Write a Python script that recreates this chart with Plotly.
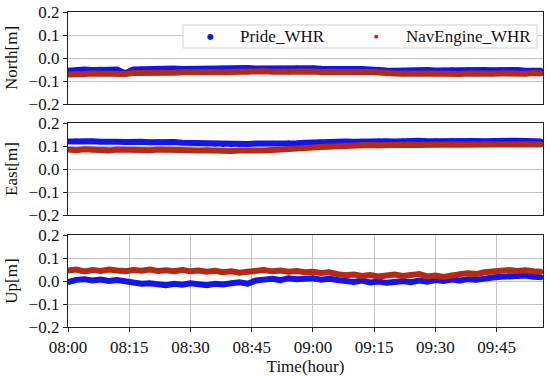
import pandas as pd
import plotly.graph_objects as go
from plotly.subplots import make_subplots

# sample times (every 2 minutes from 08:00 to 09:56)
TIMES = pd.date_range("2024-01-01 08:00", "2024-01-01 09:56", freq="2min")

SERIES_NAMES = ["Pride_WHR", "NavEngine_WHR"]
PANEL_LABELS = ["North[m]", "East[m]", "Up[m]"]
X_TICK_LABELS = ["08:00", "08:15", "08:30", "08:45", "09:00", "09:15", "09:30", "09:45"]
Y_TICKS = [-0.2, -0.1, 0.0, 0.1, 0.2]

north_pride = [-0.056, -0.052, -0.050, -0.052, -0.049, -0.051, -0.050, -0.066, -0.050, -0.048,
               -0.049, -0.047, -0.048, -0.046, -0.048, -0.047, -0.049, -0.046, -0.048, -0.045,
               -0.047, -0.046, -0.044, -0.046, -0.045, -0.047, -0.045, -0.046, -0.044, -0.046,
               -0.045, -0.047, -0.046, -0.048, -0.047, -0.049, -0.048, -0.050, -0.049, -0.054,
               -0.055, -0.053, -0.055, -0.054, -0.052, -0.054, -0.053, -0.051, -0.053, -0.052,
               -0.054, -0.052, -0.053, -0.051, -0.054, -0.052, -0.055, -0.053, -0.055]
north_nav = [-0.072, -0.068, -0.070, -0.067, -0.069, -0.066, -0.068, -0.070, -0.065, -0.066,
             -0.064, -0.065, -0.063, -0.064, -0.062, -0.063, -0.061, -0.063, -0.060, -0.062,
             -0.061, -0.059, -0.061, -0.060, -0.058, -0.060, -0.059, -0.061, -0.058, -0.060,
             -0.059, -0.061, -0.060, -0.062, -0.061, -0.060, -0.062, -0.061, -0.063, -0.068,
             -0.067, -0.069, -0.066, -0.068, -0.067, -0.069, -0.066, -0.068, -0.070, -0.067,
             -0.069, -0.066, -0.068, -0.067, -0.069, -0.066, -0.068, -0.065, -0.067]
east_pride = [0.120, 0.122, 0.119, 0.121, 0.118, 0.120, 0.119, 0.117, 0.119, 0.118,
              0.116, 0.118, 0.115, 0.117, 0.114, 0.113, 0.112, 0.110, 0.108, 0.106,
              0.105, 0.107, 0.109, 0.111, 0.110, 0.112, 0.111, 0.113, 0.112, 0.114,
              0.116, 0.117, 0.118, 0.119, 0.120, 0.119, 0.121, 0.120, 0.122, 0.121,
              0.120, 0.122, 0.121, 0.123, 0.121, 0.122, 0.120, 0.122, 0.121, 0.123,
              0.122, 0.121, 0.123, 0.122, 0.121, 0.123, 0.122, 0.121, 0.120]
east_nav = [0.085, 0.082, 0.086, 0.083, 0.084, 0.081, 0.085, 0.083, 0.086, 0.084,
            0.082, 0.085, 0.083, 0.084, 0.081, 0.083, 0.080, 0.082, 0.079, 0.081,
            0.078, 0.080, 0.079, 0.082, 0.080, 0.083, 0.084, 0.086, 0.088, 0.090,
            0.093, 0.096, 0.098, 0.100, 0.101, 0.103, 0.102, 0.104, 0.103, 0.105,
            0.104, 0.106, 0.105, 0.104, 0.106, 0.105, 0.107, 0.106, 0.105, 0.107,
            0.106, 0.108, 0.107, 0.106, 0.108, 0.107, 0.109, 0.108, 0.107]
up_pride = [-0.005, 0.005, 0.008, 0.002, 0.006, 0.000, 0.004, -0.002, -0.008, -0.012,
            -0.010, -0.015, -0.018, -0.012, -0.016, -0.010, -0.014, -0.018, -0.012, -0.015,
            -0.010, -0.006, -0.012, 0.002, 0.006, 0.010, 0.004, 0.012, 0.008, 0.010,
            0.012, 0.006, 0.010, 0.004, 0.000, -0.004, 0.002, -0.006, -0.002, -0.008,
            -0.004, 0.000, -0.005, 0.002, -0.003, 0.004, 0.000, 0.006, 0.002, 0.008,
            0.005, 0.012, 0.015, 0.018, 0.022, 0.020, 0.024, 0.018, 0.016]
up_nav = [0.045, 0.050, 0.042, 0.048, 0.044, 0.050, 0.046, 0.043, 0.048, 0.045,
          0.050, 0.044, 0.047, 0.043, 0.048, 0.042, 0.046, 0.040, 0.044, 0.038,
          0.042, 0.036, 0.040, 0.044, 0.048, 0.042, 0.046, 0.040, 0.043, 0.038,
          0.040, 0.035, 0.038, 0.030, 0.025, 0.028, 0.022, 0.026, 0.020, 0.024,
          0.028, 0.022, 0.026, 0.030, 0.020, 0.024, 0.018, 0.026, 0.030, 0.034,
          0.030, 0.038, 0.042, 0.046, 0.048, 0.044, 0.047, 0.042, 0.040]

COLORS = ["#1414f0", "#b52a12"]
PANELS = [(north_pride, north_nav), (east_pride, east_nav), (up_pride, up_nav)]

FONT = "Liberation Serif, Times New Roman, serif"

fig = make_subplots(rows=3, cols=1, shared_xaxes=False, vertical_spacing=0.06)

for r, (pride, nav) in enumerate(PANELS, start=1):
    for vals, col, name in zip((pride, nav), COLORS, SERIES_NAMES):
        fig.add_trace(go.Scatter(x=TIMES, y=vals, mode="lines+markers", name=name,
                                 line=dict(color=col, width=6),
                                 marker=dict(color=col, size=5),
                                 showlegend=False), row=r, col=1)

tickvals = pd.to_datetime(["2024-01-01 " + t for t in X_TICK_LABELS])
xrange = ["2024-01-01 08:00", "2024-01-01 09:56:20"]

H = 315.0
domains = [(223 / H, 1.0), (112 / H, 204 / H), (0.0, 92 / H)]

for r in range(1, 4):
    fig.update_yaxes(row=r, col=1, range=[-0.2, 0.2], tickvals=Y_TICKS,
                     ticktext=[f"{v:.1f}".replace("-", "\u2212") for v in Y_TICKS],
                     showgrid=True, gridcolor="#c4c4c4", gridwidth=1,
                     showline=True, linecolor="#222", linewidth=1.3, mirror=True,
                     ticks="outside", ticklen=4, tickcolor="#222",
                     zeroline=False, domain=list(domains[r - 1]), automargin=False,
                     title=dict(text=PANEL_LABELS[r - 1], standoff=6,
                                font=dict(family=FONT, size=17, color="#111")),
                     tickfont=dict(family=FONT, size=17, color="#111"))
    last = (r == 3)
    fig.update_xaxes(row=r, col=1, type="date", range=xrange,
                     tickvals=tickvals, ticktext=X_TICK_LABELS,
                     showticklabels=last, showgrid=last, gridcolor="#c4c4c4",
                     ticks="outside" if last else "", ticklen=4, tickcolor="#222",
                     showline=True, linecolor="#222", linewidth=1.3, mirror=True,
                     zeroline=False, automargin=False,
                     tickfont=dict(family=FONT, size=17, color="#111"))

fig.update_xaxes(row=3, col=1, title=dict(text="Time(hour)", standoff=2,
                                          font=dict(family=FONT, size=17, color="#111")))

# legend box drawn as a shape with text entries (compact, matplotlib-like)
W_PLOT, H_PLOT, L0, T0 = 475.0, 315.0, 68.0, 12.0
def px_x(p):
    return (p - L0) / W_PLOT
def px_y(p):
    return (T0 + H_PLOT - p) / H_PLOT

fig.add_shape(type="rect", xref="paper", yref="paper",
              x0=px_x(183), x1=px_x(537), y0=px_y(48), y1=px_y(25),
              line=dict(color="#d0d0d0", width=1), fillcolor="rgba(255,255,255,0.92)",
              layer="above")
legend_items = [(210, 8, 238, SERIES_NAMES[0], COLORS[0]),
                (376, 5, 404, SERIES_NAMES[1], COLORS[1])]
for mx, fsz, tx, name, col in legend_items:
    fig.add_annotation(xref="paper", yref="paper", x=px_x(mx), y=px_y(36.5),
                       text="\u25cf", showarrow=False, xanchor="center", yanchor="middle",
                       font=dict(size=fsz, color=col, family="DejaVu Sans"))
    fig.add_annotation(xref="paper", yref="paper", x=px_x(tx), y=px_y(36.5),
                       text=name, showarrow=False, xanchor="left", yanchor="middle",
                       font=dict(size=17, color="#111", family=FONT))

fig.update_layout(
    width=550, height=377,
    margin=dict(l=68, r=7, t=12, b=50),
    paper_bgcolor="white", plot_bgcolor="white",
    font=dict(family=FONT, size=17, color="#111"),
    showlegend=False,
)

fig.write_html("out.html", config={"displayModeBar": False},
               post_script="document.body.style.margin='0px';document.body.style.overflow='hidden';")
